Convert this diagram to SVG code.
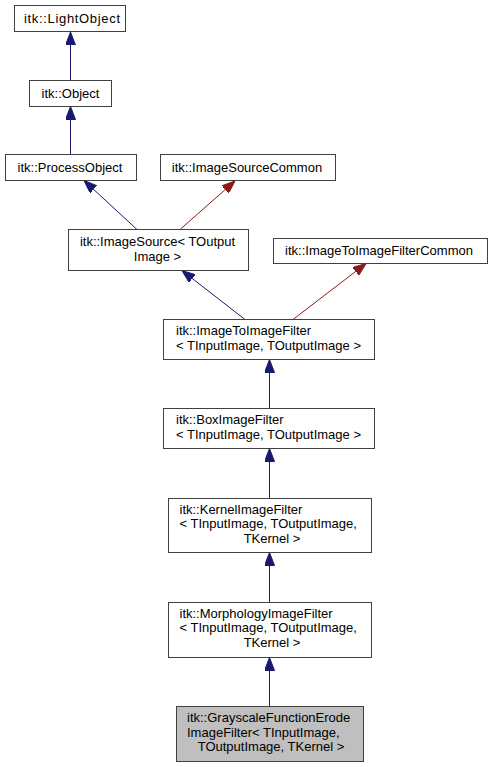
<svg xmlns="http://www.w3.org/2000/svg" width="492" height="767" viewBox="0 0 492 767">
<style>
.n rect{fill:#ffffff;stroke:#404040;stroke-width:1}
.n.cur rect{fill:#bfbfbf}
text{font-family:"Liberation Sans",Arial,Helvetica,sans-serif;font-size:13px;fill:#000}
.c{text-anchor:middle}
.e{fill:none;stroke-width:1}
.b{stroke:#191970}
.r{stroke:#8b1a1a}
</style>
<defs>
<marker id="ab" viewBox="0 0 13 10" markerUnits="userSpaceOnUse" markerWidth="13" markerHeight="10" refX="13" refY="5" orient="auto"><path d="M0,0 L13,5 L0,10 z" fill="#191970" stroke="#191970"/></marker>
<marker id="ar" viewBox="0 0 13 10" markerUnits="userSpaceOnUse" markerWidth="13" markerHeight="10" refX="13" refY="5" orient="auto"><path d="M0,0 L13,5 L0,10 z" fill="#8b1a1a" stroke="#8b1a1a"/></marker>
</defs>
<rect width="492" height="767" fill="#ffffff"/>
<g id="edges">
<line class="e b" x1="70.5" y1="80.5" x2="70.5" y2="32" marker-end="url(#ab)"/>
<line class="e b" x1="70.5" y1="154.5" x2="70.5" y2="106.5" marker-end="url(#ab)"/>
<line class="e b" x1="137" y1="229.5" x2="84" y2="180.5" marker-end="url(#ab)"/>
<line class="e r" x1="180" y1="229.5" x2="235" y2="181" marker-end="url(#ar)"/>
<line class="e b" x1="245" y1="319.5" x2="182" y2="270.5" marker-end="url(#ab)"/>
<line class="e r" x1="293" y1="319.5" x2="366" y2="263.5" marker-end="url(#ar)"/>
<line class="e b" x1="269.5" y1="408.5" x2="269.5" y2="359.5" marker-end="url(#ab)"/>
<line class="e b" x1="269.5" y1="498.5" x2="269.5" y2="448.5" marker-end="url(#ab)"/>
<line class="e b" x1="269.5" y1="602.5" x2="269.5" y2="552.5" marker-end="url(#ab)"/>
<line class="e b" x1="269.5" y1="706.5" x2="269.5" y2="657.5" marker-end="url(#ab)"/>
</g>
<g id="lightobject" class="n"><rect x="14.5" y="5.5" width="111" height="26"/><text class="c" x="72" y="22.5" textLength="96" lengthAdjust="spacing">itk::LightObject</text></g>
<g id="object" class="n"><rect x="29.5" y="80.5" width="82" height="26"/><text class="c" x="70.5" y="97.5">itk::Object</text></g>
<g id="processobject" class="n"><rect x="5.5" y="154.5" width="131" height="26"/><text class="c" x="70" y="171.5">itk::ProcessObject</text></g>
<g id="imagesourcecommon" class="n"><rect x="160.5" y="154.5" width="175" height="26"/><text class="c" x="247" y="171.5">itk::ImageSourceCommon</text></g>
<g id="imagesource" class="n"><rect x="68.5" y="229.5" width="180" height="41"/><text class="c" x="157.5" y="246">itk::ImageSource&lt; TOutput</text><text class="c" x="157.5" y="261">Image &gt;</text></g>
<g id="imagetoimagefiltercommon" class="n"><rect x="273.5" y="238.5" width="214" height="25"/><text class="c" x="379" y="254.5">itk::ImageToImageFilterCommon</text></g>
<g id="imagetoimagefilter" class="n"><rect x="163.5" y="319.5" width="211" height="40"/><text x="176" y="334.5">itk::ImageToImageFilter</text><text x="176" y="349.5">&lt; TInputImage, TOutputImage &gt;</text></g>
<g id="boximagefilter" class="n"><rect x="163.5" y="408.5" width="211" height="40"/><text x="176" y="423.5">itk::BoxImageFilter</text><text x="176" y="438.5">&lt; TInputImage, TOutputImage &gt;</text></g>
<g id="kernelimagefilter" class="n"><rect x="168.5" y="498.5" width="203" height="54"/><text x="179.5" y="513.5">itk::KernelImageFilter</text><text x="179.5" y="528">&lt; TInputImage, TOutputImage,</text><text class="c" x="272" y="542.5">TKernel &gt;</text></g>
<g id="morphologyimagefilter" class="n"><rect x="168.5" y="602.5" width="203" height="55"/><text x="179.5" y="617.5">itk::MorphologyImageFilter</text><text x="179.5" y="632">&lt; TInputImage, TOutputImage,</text><text class="c" x="272" y="646.5">TKernel &gt;</text></g>
<g id="grayscalefunctionerodeimagefilter" class="n cur"><rect x="176.5" y="706.5" width="187" height="55"/><text x="187" y="721.5">itk::GrayscaleFunctionErode</text><text x="187" y="736.5">ImageFilter&lt; TInputImage,</text><text class="c" x="271" y="750.5">TOutputImage, TKernel &gt;</text></g>
</svg>
